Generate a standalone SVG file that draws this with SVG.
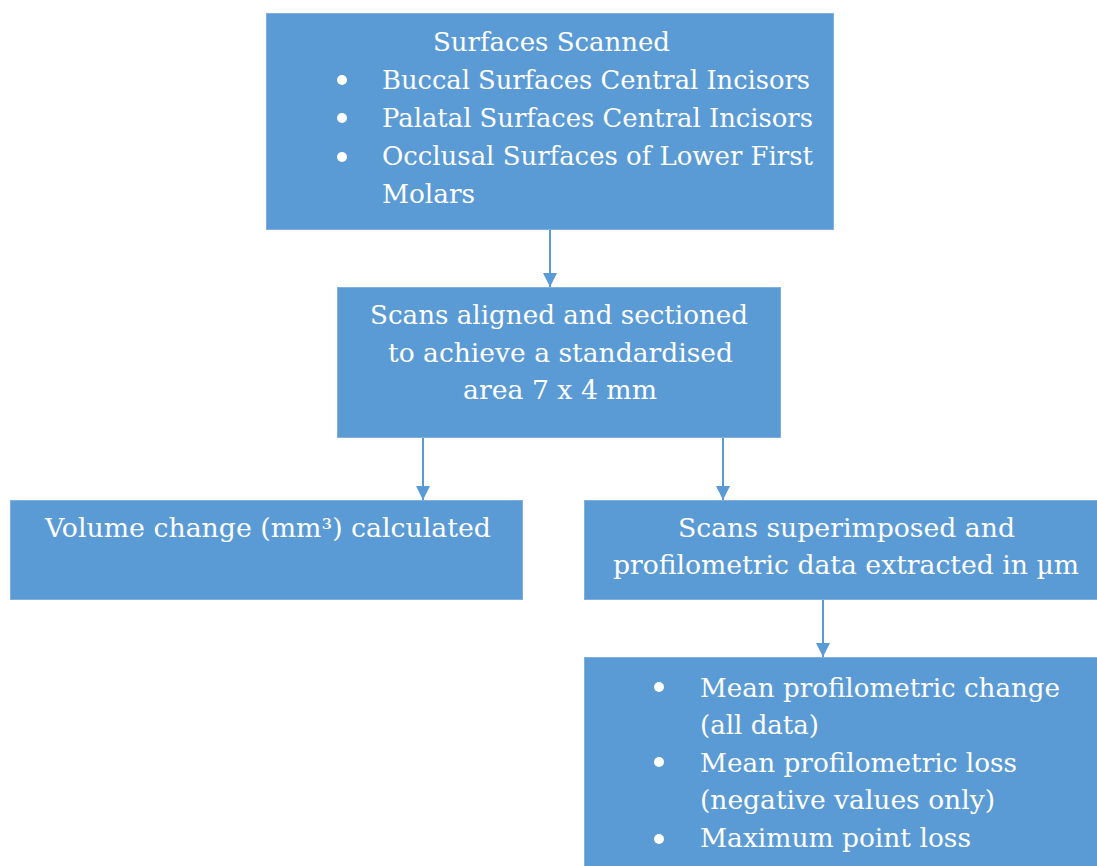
<svg xmlns="http://www.w3.org/2000/svg" width="1097" height="866" viewBox="0 0 1097 866">
<style>
.box{fill:#5B9BD5;stroke:#7FB0DE;stroke-width:1}
.t{font-family:"DejaVu Serif","Liberation Serif",serif;font-size:26px;fill:#FFFFFF}
.b{fill:#FFFFFF}
.c{stroke:#5B9BD5;stroke-width:2;fill:none}
</style>
<defs>
<marker id="ah" viewBox="0 0 14 14" refX="14" refY="7" markerWidth="14" markerHeight="14" markerUnits="userSpaceOnUse" orient="auto">
<path d="M0,0 L14,7 L0,14 Z" fill="#5B9BD5"/>
</marker>
</defs>
<rect width="1097" height="866" fill="#FFFFFF"/>
<g id="connectors">
<line class="c" x1="550" y1="230" x2="550" y2="287" marker-end="url(#ah)"/>
<line class="c" x1="423" y1="438" x2="423" y2="500" marker-end="url(#ah)"/>
<line class="c" x1="723" y1="438" x2="723" y2="500" marker-end="url(#ah)"/>
<line class="c" x1="823" y1="600" x2="823" y2="657" marker-end="url(#ah)"/>
</g>
<g id="node-surfaces">
<rect class="box" x="266.5" y="13.5" width="567" height="216"/>
<text class="t" x="433" y="51" textLength="237" lengthAdjust="spacingAndGlyphs">Surfaces Scanned</text>
<circle class="b" cx="342" cy="80" r="5"/>
<text class="t" x="382" y="89" textLength="428" lengthAdjust="spacingAndGlyphs">Buccal Surfaces Central Incisors</text>
<circle class="b" cx="342" cy="118" r="5"/>
<text class="t" x="382" y="127" textLength="431" lengthAdjust="spacingAndGlyphs">Palatal Surfaces Central Incisors</text>
<circle class="b" cx="342" cy="157" r="5"/>
<text class="t" x="382" y="165" textLength="431" lengthAdjust="spacingAndGlyphs">Occlusal Surfaces of Lower First</text>
<text class="t" x="382" y="203" textLength="93" lengthAdjust="spacingAndGlyphs">Molars</text>
</g>
<g id="node-aligned">
<rect class="box" x="337.5" y="287.5" width="443" height="150"/>
<text class="t" x="370" y="324" textLength="378" lengthAdjust="spacingAndGlyphs">Scans aligned and sectioned</text>
<text class="t" x="388" y="362" textLength="345" lengthAdjust="spacingAndGlyphs">to achieve a standardised</text>
<text class="t" x="463" y="399" textLength="194" lengthAdjust="spacingAndGlyphs">area 7 x 4 mm</text>
</g>
<g id="node-volume">
<rect class="box" x="10.5" y="500.5" width="512" height="99"/>
<text class="t" x="45" y="537" textLength="446" lengthAdjust="spacingAndGlyphs">Volume change (mm³) calculated</text>
</g>
<g id="node-superimposed">
<rect class="box" x="584.5" y="500.5" width="513" height="99"/>
<text class="t" x="678" y="537" textLength="337" lengthAdjust="spacingAndGlyphs">Scans superimposed and</text>
<text class="t" x="613" y="574" textLength="466" lengthAdjust="spacingAndGlyphs">profilometric data extracted in µm</text>
</g>
<g id="node-measures">
<rect class="box" x="584.5" y="657.5" width="513" height="209"/>
<circle class="b" cx="659" cy="687" r="5"/>
<text class="t" x="700" y="697" textLength="360" lengthAdjust="spacingAndGlyphs">Mean profilometric change</text>
<text class="t" x="700" y="734" textLength="119" lengthAdjust="spacingAndGlyphs">(all data)</text>
<circle class="b" cx="659" cy="762" r="5"/>
<text class="t" x="700" y="772" textLength="317" lengthAdjust="spacingAndGlyphs">Mean profilometric loss</text>
<text class="t" x="700" y="809" textLength="295" lengthAdjust="spacingAndGlyphs">(negative values only)</text>
<circle class="b" cx="659" cy="839" r="5"/>
<text class="t" x="700" y="847" textLength="271" lengthAdjust="spacingAndGlyphs">Maximum point loss</text>
</g>
</svg>
